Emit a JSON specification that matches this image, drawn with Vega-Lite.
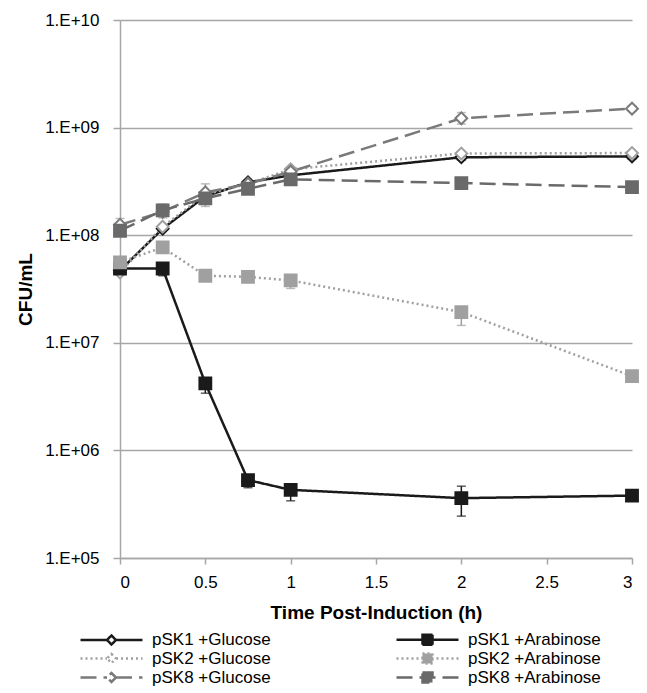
{
  "$schema": "https://vega.github.io/schema/vega-lite/v6.json",
  "width": 512,
  "height": 538,
  "autosize": {"type": "none"},
  "padding": {"left": 120, "top": 20, "right": 15, "bottom": 135},
  "background": "white",
  "config": {
    "font": "Liberation Sans",
    "view": {"stroke": null},
    "axis": {
      "domainColor": "#a6a6a6",
      "domainWidth": 1.5,
      "tickColor": "#a6a6a6",
      "tickWidth": 1.5,
      "labelColor": "#000000",
      "titleColor": "#000000",
      "labelFontSize": 17,
      "titleFontSize": 19,
      "titleFontWeight": "bold"
    }
  },
  "data": {
    "values": [
      {"s": "pSK1 +Glucose", "t": 0, "v": 4.7e7},
      {"s": "pSK1 +Glucose", "t": 0.25, "v": 1.15e8},
      {"s": "pSK1 +Glucose", "t": 0.5, "v": 2.3e8},
      {"s": "pSK1 +Glucose", "t": 0.75, "v": 3.1e8},
      {"s": "pSK1 +Glucose", "t": 1, "v": 3.6e8},
      {"s": "pSK1 +Glucose", "t": 2, "v": 5.3e8, "lo": 5.0e8, "hi": 5.7e8},
      {"s": "pSK1 +Glucose", "t": 3, "v": 5.4e8, "lo": 5.1e8, "hi": 5.8e8},
      {"s": "pSK2 +Glucose", "t": 0, "v": 4.5e7},
      {"s": "pSK2 +Glucose", "t": 0.25, "v": 1.2e8},
      {"s": "pSK2 +Glucose", "t": 0.5, "v": 2.4e8},
      {"s": "pSK2 +Glucose", "t": 0.75, "v": 3.0e8},
      {"s": "pSK2 +Glucose", "t": 1, "v": 4.1e8},
      {"s": "pSK2 +Glucose", "t": 2, "v": 5.75e8},
      {"s": "pSK2 +Glucose", "t": 3, "v": 5.8e8},
      {"s": "pSK8 +Glucose", "t": 0, "v": 1.25e8, "lo": 1.1e8, "hi": 1.43e8},
      {"s": "pSK8 +Glucose", "t": 0.25, "v": 1.65e8, "lo": 1.45e8, "hi": 1.95e8},
      {"s": "pSK8 +Glucose", "t": 0.5, "v": 2.5e8, "lo": 1.85e8, "hi": 3.0e8},
      {"s": "pSK8 +Glucose", "t": 0.75, "v": 3.0e8},
      {"s": "pSK8 +Glucose", "t": 1, "v": 3.9e8},
      {"s": "pSK8 +Glucose", "t": 2, "v": 1.22e9, "lo": 1.08e9, "hi": 1.38e9},
      {"s": "pSK8 +Glucose", "t": 3, "v": 1.5e9, "lo": 1.42e9, "hi": 1.6e9},
      {"s": "pSK1 +Arabinose", "t": 0, "v": 4.9e7},
      {"s": "pSK1 +Arabinose", "t": 0.25, "v": 4.9e7, "lo": 4.2e7, "hi": 5.4e7},
      {"s": "pSK1 +Arabinose", "t": 0.5, "v": 4.2e6, "lo": 3.4e6, "hi": 4.6e6},
      {"s": "pSK1 +Arabinose", "t": 0.75, "v": 5.3e5, "lo": 4.5e5, "hi": 5.8e5},
      {"s": "pSK1 +Arabinose", "t": 1, "v": 4.3e5, "lo": 3.4e5, "hi": 4.6e5},
      {"s": "pSK1 +Arabinose", "t": 2, "v": 3.6e5, "lo": 2.45e5, "hi": 4.65e5},
      {"s": "pSK1 +Arabinose", "t": 3, "v": 3.8e5},
      {"s": "pSK2 +Arabinose", "t": 0, "v": 5.6e7},
      {"s": "pSK2 +Arabinose", "t": 0.25, "v": 7.7e7, "lo": 7.2e7, "hi": 8.2e7},
      {"s": "pSK2 +Arabinose", "t": 0.5, "v": 4.2e7},
      {"s": "pSK2 +Arabinose", "t": 0.75, "v": 4.1e7},
      {"s": "pSK2 +Arabinose", "t": 1, "v": 3.8e7, "lo": 3.2e7, "hi": 4.0e7},
      {"s": "pSK2 +Arabinose", "t": 2, "v": 1.93e7, "lo": 1.45e7, "hi": 2.1e7},
      {"s": "pSK2 +Arabinose", "t": 3, "v": 4.9e6, "lo": 4.5e6, "hi": 5.1e6},
      {"s": "pSK8 +Arabinose", "t": 0, "v": 1.1e8},
      {"s": "pSK8 +Arabinose", "t": 0.25, "v": 1.7e8},
      {"s": "pSK8 +Arabinose", "t": 0.5, "v": 2.2e8},
      {"s": "pSK8 +Arabinose", "t": 0.75, "v": 2.7e8},
      {"s": "pSK8 +Arabinose", "t": 1, "v": 3.3e8},
      {"s": "pSK8 +Arabinose", "t": 2, "v": 3.05e8},
      {"s": "pSK8 +Arabinose", "t": 3, "v": 2.8e8}
    ]
  },
  "layer": [
    {
      "mark": {"type": "line", "strokeWidth": 2.5},
      "encoding": {
        "x": {
          "field": "t", "type": "quantitative",
          "scale": {"domain": [0, 3], "nice": false, "zero": false},
          "axis": {"values": [0, 0.5, 1, 1.5, 2, 2.5, 3], "format": "~g", "grid": false, "tickSize": 6, "labelPadding": 10, "title": "Time Post-Induction (h)", "titlePadding": 13}
        },
        "y": {
          "field": "v", "type": "quantitative",
          "scale": {"type": "log", "domain": [1e5, 1e10], "nice": false},
          "axis": {
            "values": [1e5, 1e6, 1e7, 1e8, 1e9, 1e10],
            "labelExpr": "'1.E+' + (round(log(datum.value)/LN10) < 10 ? '0' : '') + round(log(datum.value)/LN10)",
            "grid": true, "gridColor": "#a6a6a6", "gridWidth": 1.5,
            "tickSize": 7, "labelPadding": 14, "title": "CFU/mL", "titlePadding": 9
          }
        },
        "stroke": {
          "field": "s", "type": "nominal",
          "scale": {
            "domain": ["pSK1 +Glucose", "pSK2 +Glucose", "pSK8 +Glucose", "pSK1 +Arabinose", "pSK2 +Arabinose", "pSK8 +Arabinose"],
            "range": ["#1a1a1a", "#a0a0a0", "#7a7a7a", "#1a1a1a", "#a0a0a0", "#6a6a6a"]
          },
          "legend": {
            "orient": "none", "legendX": -17, "legendY": 611,
            "columns": 2, "title": null, "padding": 0,
            "symbolSize": 100, "symbolStrokeWidth": 2.5,
            "labelOffset": 32, "columnPadding": 120, "rowPadding": -6,
            "labelFontSize": 17, "labelColor": "#000000",
            "encode": {
              "symbols": {
                "update": {
                  "shape": {"signal": "indexof(datum.value,'Glucose') >= 0 ? 'M-6.2,0H-0.9M0.9,0H6.2M0,-0.9L0.9,0L0,0.9L-0.9,0Z' : 'M-6.2,0H6.2M-1,-1H1V1H-1Z'"},
                  "fill": {"signal": "indexof(datum.value,'Glucose') >= 0 ? 'white' : scale('stroke', datum.value)"},
                  "strokeDash": {"signal": "scale('strokeDash', datum.value)"},
                  "strokeWidth": {"value": 2.5},
                  "opacity": {"value": 1},
                  "fillOpacity": {"value": 1}
                }
              }
            }
          }
        },
        "strokeDash": {
          "field": "s", "type": "nominal",
          "scale": {
            "range": [[1, 0], [1, 0], [2, 3], [2, 3], [16, 7], [16, 7]]
          },
          "legend": null
        }
      }
    },
    {
      "transform": [{"filter": "isValid(datum.lo)"}],
      "mark": {"type": "errorbar", "ticks": {"size": 9}, "thickness": 1.5},
      "encoding": {
        "x": {"field": "t", "type": "quantitative"},
        "y": {"field": "lo", "type": "quantitative", "title": "CFU/mL"},
        "y2": {"field": "hi"},
        "color": {
          "field": "s", "type": "nominal",
          "scale": {
            "range": ["#1a1a1a", "#1a1a1a", "#a0a0a0", "#a0a0a0", "#6a6a6a", "#7a7a7a"]
          },
          "legend": null
        }
      }
    },
    {
      "mark": {"type": "point", "strokeWidth": 2, "opacity": 1, "size": 140, "fillOpacity": 1},
      "encoding": {
        "x": {"field": "t", "type": "quantitative"},
        "y": {"field": "v", "type": "quantitative"},
        "stroke": {"field": "s", "type": "nominal"},
        "fill": {
          "field": "s", "type": "nominal",
          "scale": {
            "range": ["#1a1a1a", "white", "#a0a0a0", "white", "#6a6a6a", "white"]
          },
          "legend": null
        },
        "shape": {
          "field": "s", "type": "nominal",
          "scale": {
            "range": ["square", "diamond", "square", "diamond", "square", "diamond"]
          },
          "legend": null
        }
      }
    }
  ]
}
